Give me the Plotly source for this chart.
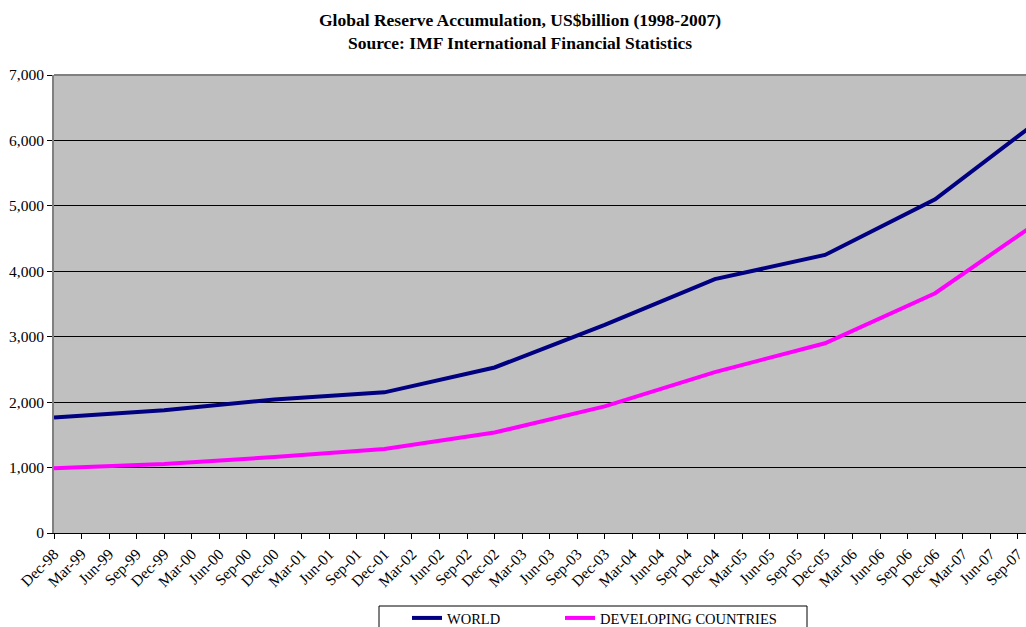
import plotly.graph_objects as go

# Quarterly categories (Dec-98 .. Dec-07); Dec-07 lies just past the cropped right edge
years = ["98", "99", "00", "01", "02", "03", "04", "05", "06", "07"]
quarters = ["Mar", "Jun", "Sep", "Dec"]
categories = ["Dec-98"] + [f"{q}-{y}" for y in years[1:] for q in quarters]

# Year-end observations (US$ billion)
year_end_labels = ["Dec-98", "Dec-99", "Dec-00", "Dec-01", "Dec-02",
                   "Dec-03", "Dec-04", "Dec-05", "Dec-06", "Dec-07"]
world = [1765, 1875, 2040, 2150, 2530, 3180, 3880, 4250, 5100, 6380]
developing = [990, 1055, 1160, 1285, 1535, 1935, 2460, 2900, 3665, 4830]

y_tick_vals = [0, 1000, 2000, 3000, 4000, 5000, 6000, 7000]

FONT = "Liberation Serif, Times New Roman, serif"

fig = go.Figure()
fig.add_trace(go.Scatter(
    x=year_end_labels, y=world, name="WORLD", mode="lines",
    line=dict(color="#000080", width=4), connectgaps=True,
    legend="legend",
))
fig.add_trace(go.Scatter(
    x=year_end_labels, y=developing, name="DEVELOPING COUNTRIES", mode="lines",
    line=dict(color="#FF00FF", width=4), connectgaps=True,
    legend="legend2",
))

visible_ticks = categories[:36]

legend_common = dict(
    orientation="h", xref="container", xanchor="left",
    yref="container", yanchor="top",
    bgcolor="rgba(0,0,0,0)", borderwidth=0,
    font=dict(family=FONT, size=14.5, color="black"),
    itemwidth=30,
)

fig.update_layout(
    width=1026, height=627,
    margin=dict(l=54, r=0, t=75, b=94),
    paper_bgcolor="white",
    plot_bgcolor="#C0C0C0",
    font=dict(family=FONT, size=15, color="black"),
    title=dict(
        text="<b>Global Reserve Accumulation, US$billion (1998-2007)<br>Source: IMF International Financial Statistics</b>",
        x=520 / 1026, xref="container", xanchor="center",
        y=1 - 26 / 627, yref="container", yanchor="top",
        font=dict(family=FONT, size=17.5, color="black"),
    ),
    xaxis=dict(
        type="category",
        categoryorder="array", categoryarray=categories,
        range=[0, 35.3],
        tickmode="array", tickvals=visible_ticks, ticktext=visible_ticks,
        tickangle=-45,
        ticks="outside", ticklen=5, tickcolor="black",
        showline=True, linecolor="black", linewidth=1,
        showgrid=False, zeroline=False,
        automargin=False,
        tickfont=dict(family=FONT, size=15.5, color="black"),
    ),
    yaxis=dict(
        range=[0, 7000],
        tickmode="array", tickvals=y_tick_vals,
        tickformat=",",
        ticks="outside", ticklen=5, tickcolor="black",
        showline=True, linecolor="#808080", linewidth=2,
        showgrid=True, gridcolor="black", gridwidth=1,
        zeroline=False,
        automargin=False,
        tickfont=dict(family=FONT, size=15.5, color="black"),
    ),
    showlegend=True,
    legend=dict(legend_common, x=407 / 1026, y=1 - 602 / 627),
    legend2=dict(legend_common, x=560 / 1026, y=1 - 602 / 627),
    shapes=[
        dict(type="rect", xref="paper", yref="paper",
             x0=(379 - 54) / 972, x1=(807 - 54) / 972,
             y0=(533 - 606) / 458, y1=(533 - 660) / 458,
             line=dict(color="black", width=1), fillcolor="rgba(0,0,0,0)",
             layer="above"),
        dict(type="line", xref="paper", yref="paper",
             x0=0, x1=1, y0=1, y1=1,
             line=dict(color="#808080", width=2), layer="above"),
    ],
)

fig.write_html(
    "out.html",
    config={"displayModeBar": False},
    post_script="document.body.style.margin='0';document.body.style.overflow='hidden';",
)
